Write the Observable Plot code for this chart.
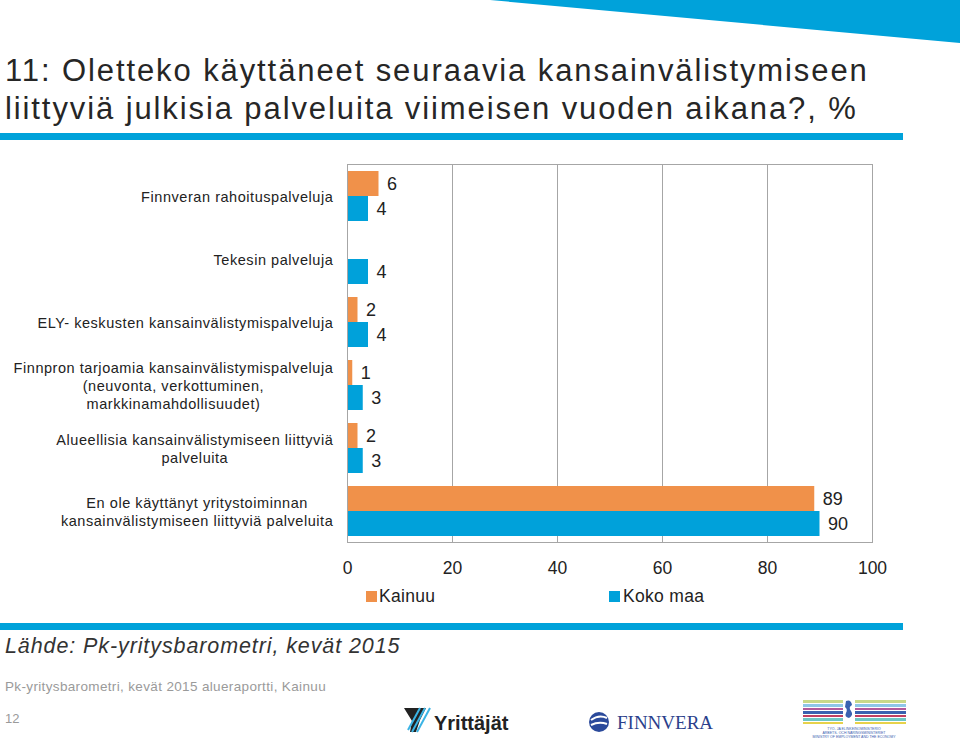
<!DOCTYPE html>
<html>
<head>
<meta charset="utf-8">
<script src="https://cdn.jsdelivr.net/npm/d3@7"></script>
<script src="https://cdn.jsdelivr.net/npm/@observablehq/plot@0.6"></script>
<style>
  html, body { margin: 0; padding: 0; background: #fff; }
  #page { position: relative; width: 960px; height: 747px; overflow: hidden; font-family: "Liberation Sans", Arial, sans-serif; color: #262626; }
  .abs { position: absolute; white-space: nowrap; }
  #title { left: 5px; top: 52px; font-size: 31px; line-height: 38px; letter-spacing: 1.9px; color: #262626; }
  .bar { position: absolute; left: 0; width: 903px; height: 7px; background: #00A2DA; }
  .legsq { position: absolute; width: 11px; height: 11px; }
  .legtx { position: absolute; font-size: 17.5px; line-height: 20px; letter-spacing: 0.3px; color: #222; }
  #source { left: 5px; top: 634px; font-size: 21.5px; font-style: italic; letter-spacing: 0.9px; color: #333; }
  #foot { left: 5px; top: 679px; font-size: 13.5px; letter-spacing: 0.35px; color: #9a9a9a; }
  #pageno { left: 5px; top: 711px; font-size: 13px; color: #9a9a9a; }
  #chart { position: absolute; left: 0; top: 150px; }
</style>
</head>
<body>
<div id="page">
  <svg class="abs" style="left:0;top:0" width="960" height="50">
    <polygon points="490,0 960,0 960,43" fill="#00A2DA"></polygon>
  </svg>
  <div id="title" class="abs">11: Oletteko käyttäneet seuraavia kansainvälistymiseen<br>liittyviä julkisia palveluita viimeisen vuoden aikana?, %</div>
  <div class="bar" style="top:133px"></div>
  <div id="chart"></div>
  <div id="legend"></div>
  <div class="bar" style="top:623px"></div>
  <div id="source" class="abs">Lähde: Pk-yritysbarometri, kevät 2015</div>
  <div id="foot" class="abs">Pk-yritysbarometri, kevät 2015 alueraportti, Kainuu</div>
  <div id="pageno" class="abs">12</div>
  <svg class="abs" style="left:390px;top:690px" width="570" height="57">
    <!-- Yrittäjät logo -->
    <polygon points="14,18 36,18 30,30 26,42 20,42 22,31" fill="#222"></polygon>
    <line x1="30" y1="18" x2="18" y2="40" stroke="#3bb4e5" stroke-width="2"></line>
    <line x1="35" y1="18" x2="22" y2="42" stroke="#3bb4e5" stroke-width="2"></line>
    <line x1="40" y1="18" x2="27" y2="42" stroke="#3bb4e5" stroke-width="2"></line>
    <text x="44" y="40" font-family="Liberation Sans, Arial" font-weight="bold" font-size="20" fill="#222">Yrittäjät</text>
    <!-- Finnvera logo -->
    <circle cx="209" cy="32" r="10" fill="#2B4A9B"></circle>
    <path d="M201,30 Q209,24 217,28 M201,35 Q209,31 217,34" stroke="#fff" stroke-width="2" fill="none"></path>
    <text x="227" y="39" font-family="Liberation Serif, serif" font-size="19" fill="#2B3F8C">FINNVERA</text>
    <!-- Ministry logo -->
    <g>
      <rect x="413" y="10" width="103" height="3" fill="#c9d98a"></rect>
      <rect x="413" y="14" width="103" height="3" fill="#8fc7e8"></rect>
      <rect x="413" y="18" width="103" height="2" fill="#b35a9b"></rect>
      <rect x="413" y="21" width="103" height="3" fill="#3a62b0"></rect>
      <rect x="413" y="25" width="103" height="2" fill="#c04060"></rect>
      <rect x="413" y="28" width="103" height="3" fill="#6cc6c4"></rect>
      <rect x="413" y="32" width="103" height="2" fill="#e7d24a"></rect>
      <rect x="453" y="8" width="12" height="26" fill="#ffffff"></rect>
      <path d="M456,11 q5,-2 6,4 q-4,2 -1,6 q3,4 -2,7 q-5,-1 -3,-5 q2,-4 -1,-6 z" fill="#3a62b0"></path>
      <text x="464" y="40" text-anchor="middle" font-family="Liberation Sans" font-size="3.5" fill="#3a62b0">TYÖ- JA ELINKEINOMINISTERIÖ</text>
      <text x="464" y="44" text-anchor="middle" font-family="Liberation Sans" font-size="3.5" fill="#3a62b0">ARBETS- OCH NÄRINGSMINISTERIET</text>
      <text x="464" y="48" text-anchor="middle" font-family="Liberation Sans" font-size="3.5" fill="#3a62b0">MINISTRY OF EMPLOYMENT AND THE ECONOMY</text>
    </g>
  </svg>
</div>
<script>
// ---- Data ----
const categories = [
  "Finnveran rahoituspalveluja",
  "Tekesin palveluja",
  "ELY- keskusten kansainvälistymispalveluja",
  "Finnpron tarjoamia kansainvälistymispalveluja\n(neuvonta, verkottuminen,\nmarkkinamahdollisuudet)",
  "Alueellisia kansainvälistymiseen liittyviä\npalveluita",
  "En ole käyttänyt yritystoiminnan\nkansainvälistymiseen liittyviä palveluita"
];
const seriesNames = ["Kainuu", "Koko maa"];
const kainuu = [6, null, 2, 1, 2, 89];
const kokoMaa = [4, 4, 4, 3, 3, 90];
const xTicks = [0, 20, 40, 60, 80, 100];
const seriesColors = ["#F0914A", "#00A1DA"];

const data = categories.flatMap((c, i) => [
  {cat: c, series: seriesNames[0], value: kainuu[i]},
  {cat: c, series: seriesNames[1], value: kokoMaa[i]}
]).filter(d => d.value != null);

const chart = Plot.plot({
  width: 960,
  height: 430,
  marginLeft: 347,
  marginRight: 88,
  marginTop: 13,
  marginBottom: 38,
  style: {fontFamily: "Liberation Sans, Arial, sans-serif", color: "#222", background: "transparent"},
  x: {domain: [0, 100], label: null},
  fy: {domain: categories, padding: 0, label: null},
  y: {domain: seriesNames, axis: null, paddingInner: 0, paddingOuter: 0.215},
  color: {domain: seriesNames, range: seriesColors},
  marks: [
    Plot.ruleX(xTicks.slice(1, -1), {stroke: "#a6a6a6", strokeWidth: 1}),
    Plot.barX(data, {fy: "cat", y: "series", x: "value", fill: "series"}),
    Plot.text(data, {fy: "cat", y: "series", x: "value", text: d => String(d.value), dx: 8, textAnchor: "start", fontSize: 18, fill: "#222"}),
    Plot.frame({facet: "super", stroke: "#a6a6a6"}),
    Plot.axisX({ticks: xTicks, tickSize: 0, tickPadding: 19, fontSize: 17.5, label: null}),
    Plot.axisFy({anchor: "left", tickSize: 0, tickPadding: 14, fontSize: 14.5, lineHeight: 1.24, label: null})
  ]
});
document.getElementById("chart").appendChild(chart);

// center each multi-line category label's lines (Excel style), keeping right edge
chart.querySelectorAll('g[aria-label="fy-axis tick label"] text').forEach(t => {
  t.setAttribute("letter-spacing", "0.55");
  const w = t.getBBox().width;
  t.setAttribute("text-anchor", "middle");
  t.setAttribute("transform", (t.getAttribute("transform") || "") + ` translate(${-w / 2},0)`);
});

// legend
const legend = document.getElementById("legend");
const legPos = [[366, 379], [609, 623]];
seriesNames.forEach((s, i) => {
  const sq = document.createElement("div");
  sq.className = "legsq";
  sq.style.left = legPos[i][0] + "px";
  sq.style.top = "591px";
  sq.style.background = seriesColors[i];
  legend.appendChild(sq);
  const tx = document.createElement("div");
  tx.className = "legtx";
  tx.style.left = legPos[i][1] + "px";
  tx.style.top = "586px";
  tx.textContent = s;
  legend.appendChild(tx);
});
</script>
</body>
</html>
